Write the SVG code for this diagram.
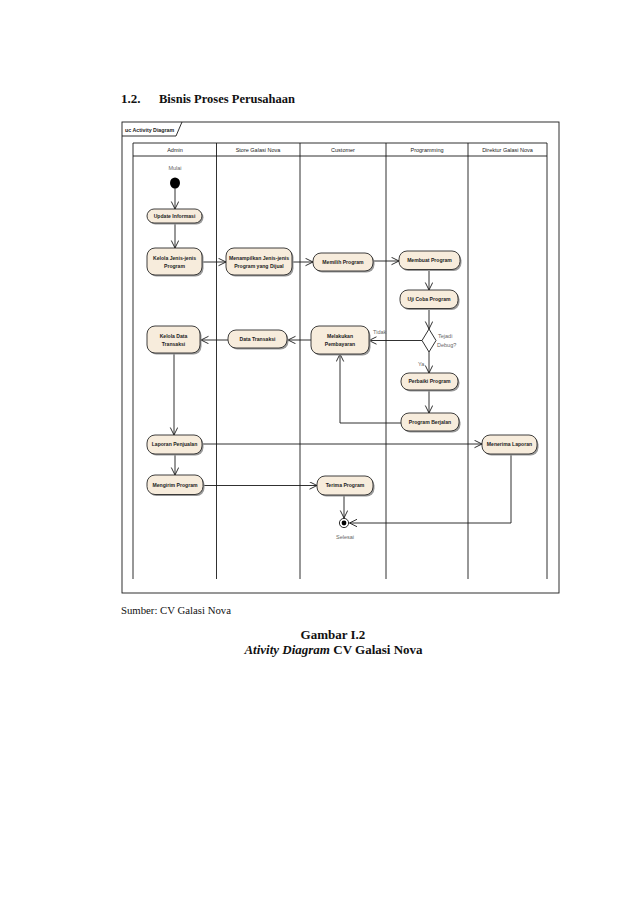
<svg xmlns="http://www.w3.org/2000/svg" width="638" height="903" viewBox="0 0 638 903">
<style>
.doc{font-family:"Liberation Serif","Times New Roman",serif;fill:#111}
.hdr{font-family:"Liberation Sans",Arial,sans-serif;font-size:5.5px;fill:#222;text-anchor:middle}
.nt{font-family:"Liberation Sans",Arial,sans-serif;font-size:5.1px;font-weight:bold;fill:#222;text-anchor:middle}
.lbl{font-family:"Liberation Sans",Arial,sans-serif;font-size:5.5px;fill:#666}
.node{fill:#F7ECDC;stroke:#2a2a2a;stroke-width:0.9}
.shadow{fill:#9a9a9a}
.ln{fill:none;stroke:#1a1a1a;stroke-width:0.9}
.edge{fill:none;stroke:#1a1a1a;stroke-width:0.9;marker-end:url(#arr)}
</style>
<defs>
<marker id="arr" markerWidth="10" markerHeight="10" refX="8" refY="4" orient="auto" markerUnits="userSpaceOnUse">
<path d="M0.5,0.3 L8,4 L0.5,7.7" fill="none" stroke="#1a1a1a" stroke-width="0.9"/>
</marker>
</defs>
<rect width="638" height="903" fill="#fff"/>
<text class="doc" x="121" y="103" font-size="13" font-weight="bold">1.2.</text>
<text class="doc" x="159" y="103" font-size="13" font-weight="bold" textLength="136" lengthAdjust="spacingAndGlyphs">Bisnis Proses Perusahaan</text>

<g id="frame">
<rect x="122" y="122" width="437" height="471" class="ln"/>
<path d="M122,136 L176,136 L182,122" class="ln"/>
<text x="125" y="131.5" font-family="Liberation Sans,Arial,sans-serif" font-size="5.3" font-weight="bold" fill="#222">uc Activity Diagram</text>
</g>

<g id="lanes">
<path d="M133,143 H547 M133,156 H547 M133,143 V579 M216.5,143 V579 M300,143 V579 M386,143 V579 M468,143 V579 M547,143 V579" class="ln"/>
<text class="hdr" x="175" y="151.5">Admin</text>
<text class="hdr" x="258" y="151.5">Store Galasi Nova</text>
<text class="hdr" x="343" y="151.5">Customer</text>
<text class="hdr" x="427" y="151.5">Programming</text>
<text class="hdr" x="507.5" y="151.5">Direktur Galasi Nova</text>
</g>

<g id="connectors">
<path class="edge" d="M175,188 V209"/>
<path class="edge" d="M175,223 V248"/>
<path class="edge" d="M202,262 H226"/>
<path class="edge" d="M292,262 H313"/>
<path class="edge" d="M373,261 H399"/>
<path class="edge" d="M429,270 V290"/>
<path class="edge" d="M429,309 V329"/>
<path class="edge" d="M422,340.5 H369"/>
<path class="edge" d="M429,352 V373"/>
<path class="edge" d="M429,390 V413"/>
<path class="edge" d="M401,423 H340 V354"/>
<path class="edge" d="M311,340 H288"/>
<path class="edge" d="M228,340 H201"/>
<path class="edge" d="M174,353 V435"/>
<path class="edge" d="M202,444 H482"/>
<path class="edge" d="M175,454 V475"/>
<path class="edge" d="M203,485.5 H317"/>
<path class="edge" d="M344,495 V518"/>
<path class="edge" d="M511,454 V523 H349.5"/>
<text class="lbl" x="373" y="334">Tidak</text>
<text class="lbl" x="418" y="366">Ya</text>
</g>

<g id="start">
<text class="lbl" x="175" y="170" text-anchor="middle">Mulai</text>
<ellipse cx="175" cy="183" rx="5" ry="5.5" fill="#000"/>
</g>

<g id="update-informasi">
<rect class="shadow" x="148.5" y="210.5" width="55" height="14" rx="7"/>
<rect class="node" x="147" y="209" width="55" height="14" rx="7"/>
<text class="nt" x="174.5" y="217.8">Update Informasi</text>
</g>

<g id="kelola-jenis">
<rect class="shadow" x="148.5" y="249.5" width="55" height="27" rx="8"/>
<rect class="node" x="147" y="248" width="55" height="27" rx="8"/>
<text class="nt" x="174.5" y="259.5">Kelola Jenis-jenis</text>
<text class="nt" x="174.5" y="267.5">Program</text>
</g>

<g id="menampilkan">
<rect class="shadow" x="227.5" y="249.5" width="66" height="27" rx="8"/>
<rect class="node" x="226" y="248" width="66" height="27" rx="8"/>
<text class="nt" x="259" y="259.5">Menampilkan Jenis-jenis</text>
<text class="nt" x="259" y="267.5">Program yang Dijual</text>
</g>

<g id="memilih">
<rect class="shadow" x="314.5" y="254.5" width="60" height="18" rx="8"/>
<rect class="node" x="313" y="253" width="60" height="18" rx="8"/>
<text class="nt" x="343" y="263.8">Memilih Program</text>
</g>

<g id="membuat">
<rect class="shadow" x="400.5" y="252.5" width="61" height="18.5" rx="8"/>
<rect class="node" x="399" y="251" width="61" height="18.5" rx="8"/>
<text class="nt" x="429.5" y="262">Membuat Program</text>
</g>

<g id="uji-coba">
<rect class="shadow" x="401.5" y="291.5" width="58" height="18.5" rx="8"/>
<rect class="node" x="400" y="290" width="58" height="18.5" rx="8"/>
<text class="nt" x="429" y="301">Uji Coba Program</text>
</g>

<g id="decision">
<path d="M429,329 L436,340.5 L429,352 L422,340.5 Z" fill="#fff" stroke="#1a1a1a" stroke-width="0.9"/>
<text class="lbl" x="438" y="338">Tejadi</text>
<text class="lbl" x="437" y="347">Debug?</text>
</g>

<g id="perbaiki">
<rect class="shadow" x="402.5" y="374.5" width="57" height="17" rx="8"/>
<rect class="node" x="401" y="373" width="57" height="17" rx="8"/>
<text class="nt" x="429.5" y="383.3">Perbaiki Program</text>
</g>

<g id="program-berjalan">
<rect class="shadow" x="402.5" y="414.5" width="58" height="18" rx="8"/>
<rect class="node" x="401" y="413" width="58" height="18" rx="8"/>
<text class="nt" x="430" y="423.8">Program Berjalan</text>
</g>

<g id="melakukan">
<rect class="shadow" x="312.5" y="327.5" width="58" height="28" rx="8"/>
<rect class="node" x="311" y="326" width="58" height="28" rx="8"/>
<text class="nt" x="340" y="338">Melakukan</text>
<text class="nt" x="340" y="346">Pembayaran</text>
</g>

<g id="data-transaksi">
<rect class="shadow" x="229.5" y="331.5" width="59" height="18" rx="8"/>
<rect class="node" x="228" y="330" width="59" height="18" rx="8"/>
<text class="nt" x="257.5" y="341">Data Transaksi</text>
</g>

<g id="kelola-data">
<rect class="shadow" x="148.5" y="327.5" width="53" height="27" rx="8"/>
<rect class="node" x="147" y="326" width="53" height="27" rx="8"/>
<text class="nt" x="173.5" y="337.5">Kelola Data</text>
<text class="nt" x="173.5" y="345.5">Transaksi</text>
</g>

<g id="laporan-penjualan">
<rect class="shadow" x="148.5" y="436.5" width="55" height="19" rx="8"/>
<rect class="node" x="147" y="435" width="55" height="19" rx="8"/>
<text class="nt" x="174.5" y="446.3">Laporan Penjualan</text>
</g>

<g id="menerima-laporan">
<rect class="shadow" x="483.5" y="436.5" width="55" height="19" rx="8"/>
<rect class="node" x="482" y="435" width="55" height="19" rx="8"/>
<text class="nt" x="509.5" y="446.3">Menerima Laporan</text>
</g>

<g id="mengirim">
<rect class="shadow" x="148.5" y="476.5" width="56" height="19.5" rx="8"/>
<rect class="node" x="147" y="475" width="56" height="19.5" rx="8"/>
<text class="nt" x="175" y="486.6">Mengirim Program</text>
</g>

<g id="terima">
<rect class="shadow" x="318.5" y="477.5" width="56" height="19" rx="8"/>
<rect class="node" x="317" y="476" width="56" height="19" rx="8"/>
<text class="nt" x="345" y="487.3">Terima Program</text>
</g>

<g id="end">
<circle cx="344" cy="523" r="4.6" fill="#fff" stroke="#1a1a1a" stroke-width="0.9"/>
<circle cx="344" cy="523" r="2.4" fill="#000"/>
<text class="lbl" x="345" y="539" text-anchor="middle">Selesai</text>
</g>

<text class="doc" x="121" y="614" font-size="11" textLength="110" lengthAdjust="spacingAndGlyphs">Sumber: CV Galasi Nova</text>
<text class="doc" x="333" y="639" font-size="13" font-weight="bold" text-anchor="middle">Gambar I.2</text>
<text class="doc" x="333.5" y="654" font-size="13" font-weight="bold" text-anchor="middle"><tspan font-style="italic">Ativity Diagram</tspan> CV Galasi Nova</text>
</svg>
